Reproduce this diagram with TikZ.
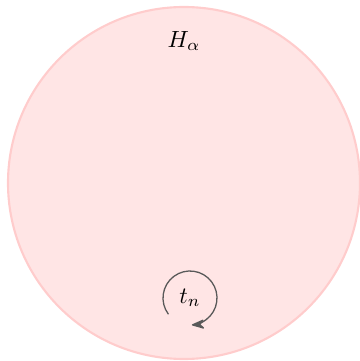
\documentclass[tikz,border=0pt]{standalone}
\usepackage{amsmath,amssymb}
\usepackage{xcolor}
\usetikzlibrary{arrows.meta,positioning}

\begin{document}
\begin{tikzpicture}[
  x=0.015cm, y=0.015cm,
  >={Stealth[round]},
  region/.style={draw=red!20, fill=red!10, line width=0.9pt},
  lbl/.style={inner sep=1pt},
  selfarr/.style={-{Stealth[round, length=2.2mm, width=1.6mm]}, draw=black!65, fill=none, line width=0.55pt},
]
\useasboundingbox (0,0) rectangle (360,361);
\node[region, circle, minimum size=352*0.015cm, inner sep=0pt] (halpha) at (184,178) {};
\node[lbl] (hlabel) at (184,320) {$H_\alpha$};
\node[lbl] (tn) at (190,63) {$t_n$};
\draw[selfarr] ([shift={(217:27)}]tn.center) arc[start angle=217, end angle=-86, radius=27];
\end{tikzpicture}
\end{document}
